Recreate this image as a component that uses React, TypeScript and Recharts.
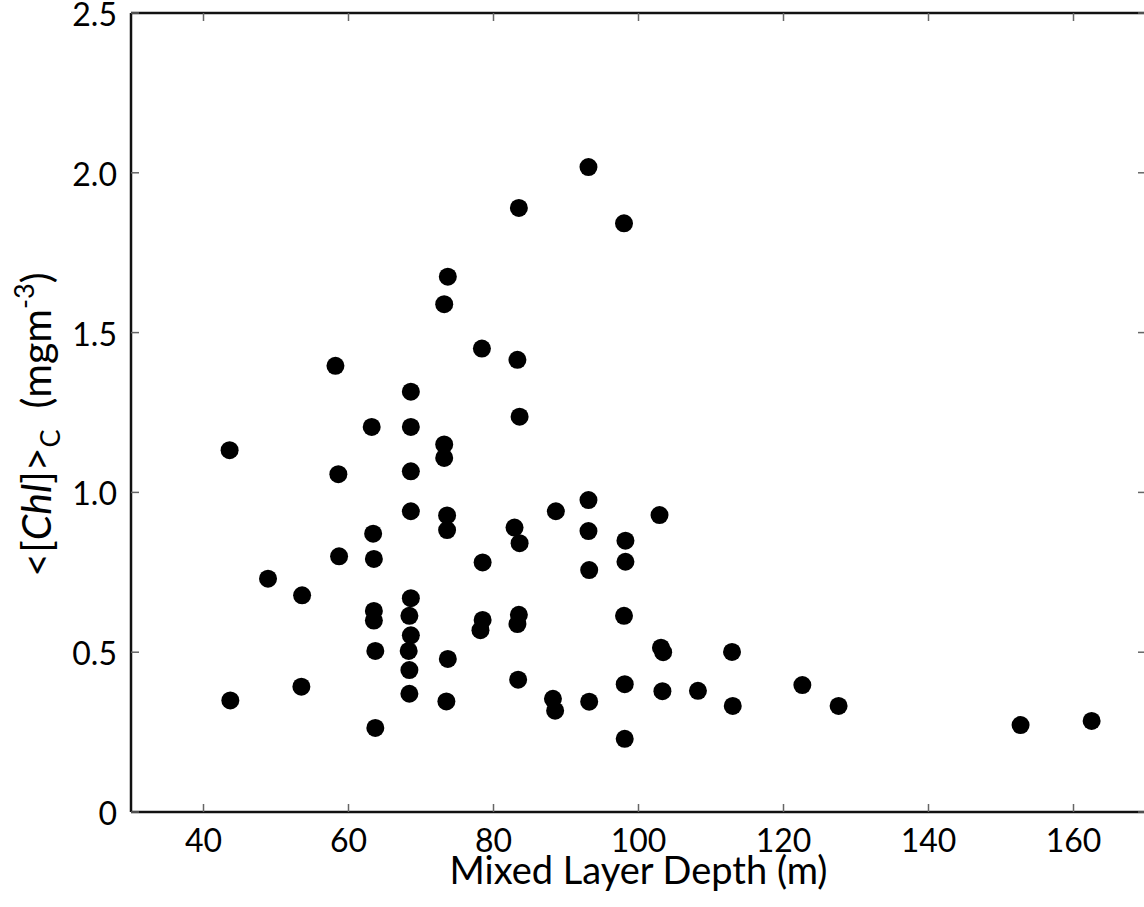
import React from 'react';
import { ScatterChart, Scatter, XAxis, YAxis } from 'recharts';

// Mixed layer depth (m)
const depth = [
  43.6, 43.7, 48.9, 53.6, 53.5, 58.2, 58.6, 58.7,
  63.2, 63.4, 63.5, 63.5, 63.5, 63.7, 63.7,
  68.6, 68.6, 68.6, 68.6, 68.6, 68.4, 68.6, 68.3, 68.4, 68.4,
  73.2, 73.7, 73.2, 73.2, 73.6, 73.6, 73.7, 73.5,
  78.4, 78.5, 78.5, 78.2,
  83.5, 83.3, 83.6, 82.9, 83.6, 83.5, 83.3, 83.4,
  88.6, 88.2, 88.5,
  93.1, 93.1, 93.1, 93.2, 93.2,
  98.0, 98.2, 98.2, 98.0, 98.1, 98.1,
  102.9, 103.1, 103.4, 103.3,
  108.2, 112.9, 113.0, 122.6, 127.6, 152.7, 162.5,
];

// <[Chl]>C (mg m-3)
const chl = [
  1.132, 0.349, 0.730, 0.678, 0.392, 1.396, 1.057, 0.800,
  1.205, 0.871, 0.792, 0.629, 0.599, 0.504, 0.263,
  1.315, 1.205, 1.066, 0.941, 0.669, 0.614, 0.553, 0.504, 0.444, 0.370,
  1.589, 1.675, 1.150, 1.108, 0.928, 0.882, 0.479, 0.346,
  1.450, 0.781, 0.601, 0.569,
  1.890, 1.415, 1.237, 0.890, 0.841, 0.617, 0.588, 0.414,
  0.941, 0.354, 0.317,
  2.018, 0.976, 0.879, 0.757, 0.345,
  1.842, 0.849, 0.783, 0.614, 0.400, 0.229,
  0.929, 0.514, 0.500, 0.378,
  0.379, 0.501, 0.332, 0.397, 0.332, 0.272, 0.285,
];

const xTicks = [40, 60, 80, 100, 120, 140, 160];
const yTicks = [0, 0.5, 1.0, 1.5, 2.0, 2.5];
const xDomain = [30, 170];
const yDomain = [0, 2.5];

const data = depth.map((x, i) => ({ x, y: chl[i] }));

const FONT = 'Lato, Carlito, "Open Sans", sans-serif';
const TICK_LEN = 8;
const TICK_COLOR = '#666';
const FS = 32;
const TITLE_FS = 38;
const YTITLE_FS = 41;

const fmtY = (v: number) => (v === 0 ? '0' : v.toFixed(1));

const BottomTick = (props: any) => {
  const { x, y, payload } = props;
  return (
    <g>
      <line x1={x} x2={x} y1={y} y2={y - TICK_LEN} stroke={TICK_COLOR} strokeWidth={1.5} />
      <text x={x} y={y + 40} textAnchor="middle" fontSize={FS} fontFamily={FONT} fill="#000">
        {payload.value}
      </text>
    </g>
  );
};

const TopTick = (props: any) => {
  const { x, y } = props;
  return <line x1={x} x2={x} y1={y} y2={y + TICK_LEN} stroke={TICK_COLOR} strokeWidth={1.5} />;
};

const LeftTick = (props: any) => {
  const { x, y, payload } = props;
  return (
    <g>
      <line x1={x} x2={x + TICK_LEN} y1={y} y2={y} stroke={TICK_COLOR} strokeWidth={1.5} />
      <text x={x - 14} y={y + 13} textAnchor="end" fontSize={FS} fontFamily={FONT} fill="#000">
        {fmtY(payload.value)}
      </text>
    </g>
  );
};

const RightTick = (props: any) => {
  const { x, y } = props;
  return <line x1={x} x2={x - TICK_LEN} y1={y} y2={y} stroke={TICK_COLOR} strokeWidth={1.5} />;
};

const XLabel = (props: any) => {
  const { viewBox } = props;
  const cx = viewBox.x + viewBox.width / 2;
  return (
    <text x={cx} y={viewBox.y + 72} textAnchor="middle" fontSize={TITLE_FS} fontFamily={FONT} fill="#000">
      Mixed Layer Depth (m)
    </text>
  );
};

const YLabel = (props: any) => {
  const { viewBox } = props;
  const cx = 51;
  const cy = viewBox.y + viewBox.height / 2 + 12;
  return (
    <text
      x={cx}
      y={cy}
      transform={`rotate(-90, ${cx}, ${cy})`}
      textAnchor="middle"
      fontSize={YTITLE_FS}
      fontFamily={FONT}
      fill="#000"
    >
      <tspan>{'<['}</tspan>
      <tspan fontStyle="italic">Chl</tspan>
      <tspan>{']>'}</tspan>
      <tspan fontSize={27} dy={9}>C</tspan>
      <tspan dy={-9}>{'\u00a0\u00a0(mgm'}</tspan>
      <tspan fontSize={27} dy={-17}>-3</tspan>
      <tspan dy={17}>)</tspan>
    </text>
  );
};

const Dot = (props: any) => <circle cx={props.cx} cy={props.cy} r={9} fill="#000" />;
const NoDot = () => <g />;

export default function App() {
  return (
    <div
      style={{
        position: 'absolute',
        left: 0,
        top: 0,
        width: 1144,
        height: 907,
        overflow: 'hidden',
        background: '#fff',
      }}
    >
      <ScatterChart width={1162} height={907} margin={{ top: 12, right: 15, bottom: 0, left: 0 }}>
        <XAxis
          xAxisId="b"
          type="number"
          dataKey="x"
          orientation="bottom"
          domain={xDomain}
          ticks={xTicks}
          allowDataOverflow
          height={95}
          tickSize={0}
          tickMargin={0}
          tickLine={false}
          tick={<BottomTick />}
          axisLine={{ stroke: '#111', strokeWidth: 2.5 }}
          interval={0}
          label={<XLabel />}
        />
        <XAxis
          xAxisId="t"
          type="number"
          dataKey="x"
          orientation="top"
          domain={xDomain}
          ticks={xTicks}
          allowDataOverflow
          height={1}
          tickSize={0}
          tickMargin={0}
          tickLine={false}
          tick={<TopTick />}
          axisLine={{ stroke: '#111', strokeWidth: 2.5 }}
          interval={0}
        />
        <YAxis
          yAxisId="l"
          type="number"
          dataKey="y"
          orientation="left"
          domain={yDomain}
          ticks={yTicks}
          allowDataOverflow
          width={131}
          tickSize={0}
          tickMargin={0}
          tickLine={false}
          tick={<LeftTick />}
          axisLine={{ stroke: '#111', strokeWidth: 2.5 }}
          interval={0}
          label={<YLabel />}
        />
        <YAxis
          yAxisId="r"
          type="number"
          dataKey="y"
          orientation="right"
          domain={yDomain}
          ticks={yTicks}
          allowDataOverflow
          width={1}
          tickSize={0}
          tickMargin={0}
          tickLine={false}
          tick={<RightTick />}
          axisLine={false}
          interval={0}
        />
        <Scatter
          xAxisId="t"
          yAxisId="r"
          data={data}
          shape={<NoDot />}
          isAnimationActive={false}
        />
        <Scatter
          xAxisId="b"
          yAxisId="l"
          data={data}
          shape={<Dot />}
          isAnimationActive={false}
        />
      </ScatterChart>
    </div>
  );
}
